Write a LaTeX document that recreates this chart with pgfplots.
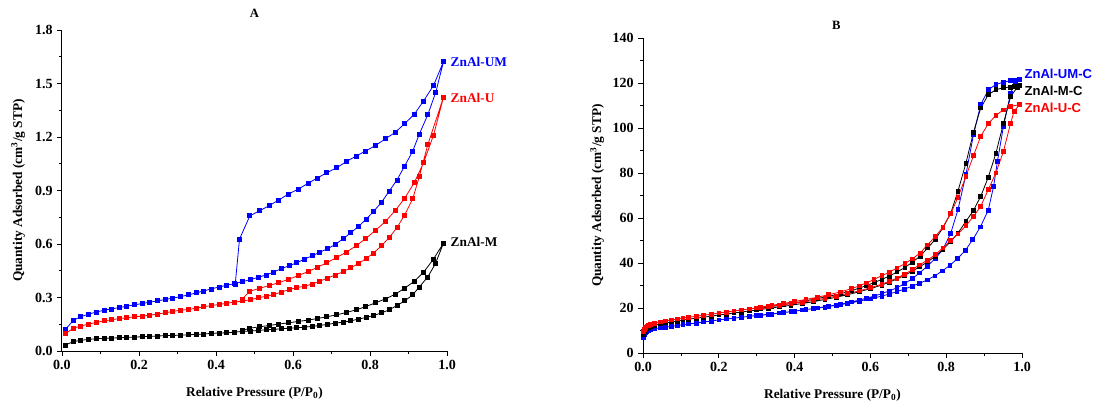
\documentclass[border=0pt]{standalone}
\usepackage{fontspec}
\setmainfont{Liberation Serif}
\newfontfamily\arialfont{Liberation Sans}
\usepackage{pgfplots}
\pgfplotsset{compat=1.18}
\definecolor{cblue}{RGB}{0,0,255}
\definecolor{cred}{RGB}{255,0,0}
\pgfplotsset{
  iso/.style={
    scale only axis, clip=false,
    axis x line*=bottom, axis y line*=left,
    axis line style={line width=0.75pt, -},
    tick align=outside,
    major tick length=3.5pt, minor tick length=2pt,
    every tick/.style={line width=0.6pt, black},
    /pgf/number format/assume math mode=true,
    ticklabel style={font=\bfseries\fontsize{10.5}{12}\selectfont},
    label style={font=\bfseries\fontsize{10}{12}\selectfont},
    xmin=0, xmax=1, xtick={0,0.2,...,1.0}, minor x tick num=1,
    xticklabel style={/pgf/number format/.cd, fixed, fixed zerofill, precision=1},
    xlabel={Relative Pressure (P/P\textsubscript{0})},
    ylabel={Quantity Adsorbed (cm\textsuperscript{3}/g STP)},
    every axis plot/.append style={line width=0.6pt, mark=square*, mark size=1.5pt},
  }
}
\begin{document}
\begin{tikzpicture}
\path[use as bounding box] (0,0) rectangle (821.25pt,303pt);
% ---------------- Panel A ----------------
\begin{axis}[iso, at={(46.5pt,39.75pt)}, anchor=south west,
  width=288.75pt, height=240.75pt,
  ymin=0, ymax=1.8, ytick={0,0.3,...,1.8}, minor y tick num=1,
  yticklabel style={/pgf/number format/.cd, fixed, fixed zerofill, precision=1},
  xlabel style={at={(axis description cs:0.5,-0.131)}, anchor=center},
  ylabel style={at={(axis description cs:-0.114,0.5)}, anchor=center},
  title={A}, title style={at={(axis description cs:0.5,1.028)}, anchor=center, font=\bfseries\fontsize{9.5}{11}\selectfont},
]
% ZnAl-UM
\addplot[color=cblue, mark options={fill=cblue}] coordinates {
(0.009,0.121)(0.029,0.171)(0.048,0.192)(0.069,0.207)(0.089,0.218)(0.109,0.229)(0.129,0.236)(0.149,0.244)(0.168,0.251)(0.188,0.259)
(0.208,0.266)(0.228,0.274)(0.248,0.281)(0.268,0.289)(0.287,0.296)(0.308,0.305)(0.329,0.315)(0.349,0.326)(0.368,0.337)(0.388,0.348)
(0.408,0.359)(0.428,0.369)(0.449,0.378)(0.469,0.389)(0.489,0.400)(0.509,0.413)(0.530,0.426)(0.550,0.443)(0.570,0.462)(0.590,0.478)
(0.610,0.495)(0.630,0.516)(0.650,0.534)(0.669,0.553)(0.689,0.573)(0.709,0.596)(0.731,0.631)(0.750,0.663)(0.770,0.698)(0.790,0.739)
(0.809,0.782)(0.830,0.834)(0.850,0.897)(0.870,0.959)(0.890,1.037)(0.911,1.121)(0.928,1.216)(0.950,1.324)(0.971,1.452)(0.991,1.623)
(0.965,1.489)(0.939,1.402)(0.915,1.327)(0.890,1.275)(0.865,1.225)(0.840,1.190)(0.814,1.152)(0.789,1.122)(0.764,1.093)(0.739,1.063)
(0.714,1.028)(0.688,1.000)(0.663,0.970)(0.639,0.940)(0.614,0.908)(0.588,0.880)(0.563,0.847)(0.538,0.815)(0.514,0.787)(0.488,0.758)
(0.461,0.627)(0.450,0.376)
};
% ZnAl-U
\addplot[color=cred, mark options={fill=cred}] coordinates {
(0.009,0.097)(0.029,0.127)(0.048,0.140)(0.069,0.151)(0.089,0.160)(0.109,0.169)(0.129,0.175)(0.149,0.182)(0.168,0.186)(0.188,0.192)
(0.208,0.195)(0.228,0.201)(0.248,0.207)(0.268,0.214)(0.287,0.222)(0.308,0.229)(0.329,0.233)(0.349,0.240)(0.368,0.248)(0.388,0.255)
(0.408,0.261)(0.428,0.268)(0.449,0.274)(0.469,0.281)(0.489,0.287)(0.509,0.298)(0.530,0.307)(0.550,0.316)(0.570,0.331)(0.590,0.344)
(0.610,0.356)(0.630,0.363)(0.650,0.376)(0.669,0.391)(0.689,0.408)(0.709,0.426)(0.731,0.445)(0.750,0.467)(0.770,0.490)(0.790,0.519)
(0.809,0.549)(0.830,0.590)(0.850,0.637)(0.870,0.691)(0.890,0.763)(0.911,0.854)(0.928,0.977)(0.950,1.156)(0.991,1.424)
(0.965,1.210)(0.939,1.055)(0.915,0.944)(0.890,0.856)(0.865,0.786)(0.840,0.726)(0.814,0.676)(0.789,0.631)(0.764,0.590)(0.739,0.555)
(0.714,0.525)(0.688,0.495)(0.663,0.469)(0.639,0.445)(0.614,0.423)(0.588,0.402)(0.563,0.383)(0.538,0.367)(0.514,0.352)(0.488,0.335)
(0.468,0.292)
};
% ZnAl-M
\addplot[color=black, mark options={fill=black}] coordinates {
(0.009,0.034)(0.029,0.052)(0.048,0.060)(0.069,0.065)(0.089,0.069)(0.109,0.071)(0.129,0.073)(0.149,0.074)(0.168,0.076)(0.188,0.078)
(0.208,0.080)(0.228,0.082)(0.248,0.084)(0.268,0.086)(0.287,0.087)(0.308,0.089)(0.329,0.091)(0.349,0.093)(0.368,0.095)(0.388,0.099)
(0.408,0.101)(0.428,0.102)(0.449,0.106)(0.469,0.110)(0.489,0.112)(0.509,0.115)(0.530,0.119)(0.550,0.121)(0.570,0.125)(0.590,0.128)
(0.610,0.130)(0.630,0.134)(0.650,0.138)(0.669,0.143)(0.689,0.149)(0.709,0.156)(0.731,0.162)(0.750,0.169)(0.770,0.179)(0.790,0.188)
(0.809,0.199)(0.830,0.214)(0.850,0.231)(0.870,0.255)(0.890,0.281)(0.911,0.315)(0.928,0.359)(0.950,0.415)(0.970,0.490)(0.991,0.605)
(0.965,0.516)(0.939,0.441)(0.915,0.391)(0.890,0.352)(0.865,0.318)(0.840,0.292)(0.814,0.270)(0.789,0.249)(0.764,0.231)(0.739,0.216)
(0.714,0.203)(0.688,0.192)(0.663,0.182)(0.639,0.173)(0.614,0.166)(0.588,0.158)(0.563,0.151)(0.538,0.143)(0.514,0.136)(0.488,0.128)
(0.468,0.115)
};
\node[anchor=west, text=cblue, font=\bfseries\fontsize{10}{12}\selectfont, inner sep=0pt] at (axis cs:1.009,1.62) {ZnAl-UM};
\node[anchor=west, text=cred, font=\bfseries\fontsize{10}{12}\selectfont, inner sep=0pt] at (axis cs:1.009,1.42) {ZnAl-U};
\node[anchor=west, text=black, font=\bfseries\fontsize{10}{12}\selectfont, inner sep=0pt] at (axis cs:1.009,0.61) {ZnAl-M};
\end{axis}
% ---------------- Panel B ----------------
\begin{axis}[iso, at={(482.25pt,38.25pt)}, anchor=south west,
  width=284.25pt, height=236.25pt,
  ymin=0, ymax=140, ytick={0,20,...,140}, minor y tick num=1,
  xlabel style={at={(axis description cs:0.5,-0.133)}, anchor=center},
  ylabel style={at={(axis description cs:-0.121,0.5)}, anchor=center},
  title={B}, title style={at={(axis description cs:0.51,1.016)}, anchor=center, font=\bfseries\fontsize{9.5}{11}\selectfont},
  every axis plot/.append style={mark size=1.4pt},
]
% ZnAl-UM-C
\addplot[color=cblue, mark options={fill=cblue}] coordinates {
(0.001,6.8)(0.003,8.0)(0.006,8.9)(0.01,9.6)(0.015,10.1)(0.02,10.4)(0.03,10.8)(0.045,11.2)(0.06,11.5)(0.075,11.8)
(0.09,12.2)(0.105,12.6)(0.12,12.9)(0.14,13.3)(0.16,13.8)(0.18,14.2)(0.20,14.7)(0.22,15.1)(0.24,15.5)(0.26,15.9)
(0.28,16.3)(0.30,16.7)(0.33,17.2)(0.36,17.8)(0.39,18.4)(0.42,19.1)(0.45,19.7)(0.48,20.4)(0.51,21.2)(0.54,22.0)
(0.57,23.0)(0.60,24.1)(0.63,25.3)(0.65,26.2)(0.67,27.3)(0.69,28.4)(0.71,29.7)(0.73,31.0)(0.75,32.5)(0.77,34.3)
(0.79,36.5)(0.81,39.0)(0.83,42.0)(0.85,45.5)(0.87,50.4)(0.89,56.0)(0.911,63.5)(0.925,74.0)(0.935,85.0)(0.951,100.7)
(0.97,115.6)(0.982,120.0)(0.993,121.5)
(0.98,121.3)(0.97,121.0)(0.951,120.4)(0.931,119.3)(0.911,117.0)(0.891,110.4)(0.872,97.0)(0.852,79.3)(0.831,63.7)(0.812,53.3)
(0.791,45.9)(0.771,42.0)(0.75,38.6)(0.73,35.6)(0.71,33.0)(0.69,30.8)(0.67,29.0)(0.65,27.6)(0.63,26.4)(0.61,25.3)
(0.59,24.4)(0.57,23.5)(0.55,22.7)(0.52,21.7)(0.49,20.8)(0.46,20.0)(0.43,19.3)(0.40,18.6)(0.37,17.9)(0.34,17.3)(0.31,16.7)
};
% ZnAl-M-C
\addplot[color=black, mark options={fill=black}] coordinates {
(0.001,8.3)(0.003,9.5)(0.006,10.3)(0.01,10.9)(0.015,11.4)(0.02,11.8)(0.03,12.3)(0.045,12.9)(0.06,13.4)(0.075,13.8)
(0.09,14.2)(0.105,14.7)(0.12,15.0)(0.14,15.5)(0.16,15.9)(0.18,16.4)(0.20,16.9)(0.22,17.3)(0.24,17.8)(0.26,18.2)
(0.28,18.7)(0.30,19.1)(0.33,19.8)(0.36,20.5)(0.39,21.2)(0.42,22.0)(0.45,22.8)(0.48,23.8)(0.51,24.8)(0.54,25.9)
(0.57,27.2)(0.60,28.6)(0.63,30.2)(0.65,31.5)(0.67,32.9)(0.69,34.5)(0.71,36.3)(0.73,38.3)(0.751,40.5)(0.771,43.0)
(0.791,46.0)(0.812,49.5)(0.831,53.3)(0.852,58.5)(0.872,63.4)(0.891,69.6)(0.911,78.1)(0.931,88.7)(0.951,102.0)(0.970,114.0)
(0.988,118.2)(0.993,118.8)
(0.98,118.5)(0.97,118.2)(0.951,117.9)(0.931,117.0)(0.911,114.8)(0.891,108.9)(0.872,98.1)(0.852,84.4)(0.831,71.9)(0.812,62.2)
(0.791,55.6)(0.771,50.4)(0.751,46.7)(0.731,43.0)(0.71,40.3)(0.691,38.0)(0.67,36.0)(0.65,34.2)(0.63,32.7)(0.61,31.3)
(0.59,30.0)(0.57,28.8)(0.55,27.7)(0.52,26.3)(0.49,25.2)(0.46,24.2)(0.43,23.2)(0.40,22.3)(0.37,21.5)(0.34,20.7)(0.31,19.9)
};
% ZnAl-U-C
\addplot[color=cred, mark options={fill=cred}] coordinates {
(0.001,9.5)(0.003,10.6)(0.006,11.4)(0.01,12.0)(0.015,12.4)(0.02,12.8)(0.03,13.2)(0.045,13.8)(0.06,14.3)(0.075,14.7)
(0.09,15.1)(0.105,15.6)(0.12,15.9)(0.14,16.3)(0.16,16.8)(0.18,17.2)(0.20,17.8)(0.22,18.2)(0.24,18.7)(0.26,19.1)
(0.28,19.6)(0.30,20.0)(0.33,20.6)(0.36,21.2)(0.39,21.9)(0.42,22.6)(0.45,23.4)(0.48,24.3)(0.51,25.3)(0.54,26.4)
(0.57,27.6)(0.60,29.0)(0.63,30.6)(0.65,31.9)(0.67,33.3)(0.69,35.0)(0.71,37.0)(0.73,39.2)(0.751,41.3)(0.771,43.7)
(0.791,46.7)(0.812,50.1)(0.831,52.9)(0.852,56.6)(0.872,60.7)(0.891,65.2)(0.911,72.6)(0.931,80.0)(0.951,89.6)(0.970,102.2)
(0.979,107.4)(0.993,110.4)
(0.97,109.6)(0.951,108.1)(0.931,105.6)(0.911,101.9)(0.891,96.3)(0.872,87.7)(0.852,78.5)(0.831,69.2)(0.812,61.9)(0.791,55.9)
(0.771,51.7)(0.751,48.1)(0.731,44.4)(0.71,41.8)(0.691,39.7)(0.67,37.8)(0.65,35.9)(0.63,34.4)(0.609,32.6)(0.59,31.2)
(0.57,29.8)(0.55,28.6)(0.52,27.1)(0.49,25.9)(0.46,24.8)(0.43,23.8)(0.40,22.9)(0.37,22.0)(0.34,21.2)(0.31,20.4)
};
\node[anchor=west, text=cblue, font=\arialfont\bfseries\fontsize{9.8}{12}\selectfont, inner sep=0pt] at (axis cs:1.006,124) {ZnAl-UM-C};
\node[anchor=west, text=black, font=\arialfont\bfseries\fontsize{9.8}{12}\selectfont, inner sep=0pt] at (axis cs:1.006,116.7) {ZnAl-M-C};
\node[anchor=west, text=cred, font=\arialfont\bfseries\fontsize{9.8}{12}\selectfont, inner sep=0pt] at (axis cs:1.006,109) {ZnAl-U-C};
\end{axis}
\end{tikzpicture}
\end{document}
